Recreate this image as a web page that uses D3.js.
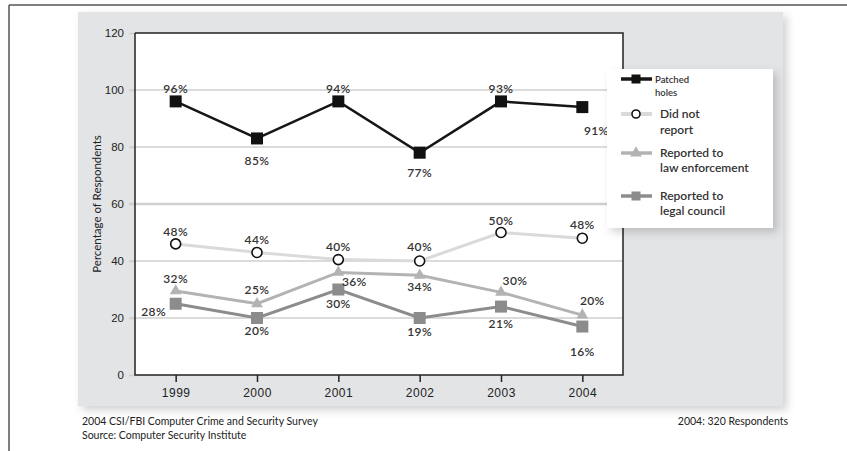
<!DOCTYPE html>
<html>
<head>
<meta charset="utf-8">
<script src="https://cdn.jsdelivr.net/npm/d3@7"></script>
<style>
  body { margin: 0; background: #fff; }
  svg { display: block; font-family: Lato, "Open Sans", sans-serif; }
</style>
</head>
<body>
<svg id="chart"></svg>
<script>
let years = ["1999", "2000", "2001", "2002", "2003", "2004"];
let yTicks = [0, 20, 40, 60, 80, 100, 120];

// plotted positions (as drawn) and the printed labels
let patched = [96, 83, 96, 78, 96, 94];
let patchedLabels = ["96%", "85%", "94%", "77%", "93%", "91%"];
let notReported = [46, 43, 40.5, 40, 50, 48];
let notReportedLabels = ["48%", "44%", "40%", "40%", "50%", "48%"];
let lawEnf = [29.5, 25, 36, 35, 29, 21];
let lawEnfLabels = ["32%", "25%", "36%", "34%", "30%", "20%"];
let legal = [25, 20, 30, 20, 24, 17];
let legalLabels = ["28%", "20%", "30%", "19%", "21%", "16%"];

let width = 847;
let height = 451;
let plot = { left: 135, right: 623, top: 33, bottom: 375 };

let svg = d3.select("#chart").attr("width", width).attr("height", height);

let defs = svg.append("defs");
let shadow = defs.append("filter").attr("id", "shadow")
  .attr("x", "-5%").attr("y", "-5%").attr("width", "115%").attr("height", "115%");
shadow.append("feDropShadow").attr("dx", 4).attr("dy", 4).attr("stdDeviation", 4)
  .attr("flood-color", "#000").attr("flood-opacity", 0.18);

// outer frame
svg.append("line").attr("x1", 9).attr("x2", width).attr("y1", 5).attr("y2", 5)
  .attr("stroke", "#555").attr("stroke-width", 1.5);
svg.append("line").attr("x1", 9).attr("x2", 9).attr("y1", 5).attr("y2", height)
  .attr("stroke", "#555").attr("stroke-width", 1.5);

// gray panel
svg.append("rect").attr("x", 78).attr("y", 12).attr("width", 705).attr("height", 394)
  .attr("fill", "#e3e4e6").attr("filter", "url(#shadow)");

svg.append("rect").attr("x", plot.left).attr("y", plot.top)
  .attr("width", plot.right - plot.left).attr("height", plot.bottom - plot.top)
  .attr("fill", "#fff");

let xScale = d3.scalePoint().domain(years).range([plot.left, plot.right]).padding(0.5);
let yScale = d3.scaleLinear().domain([0, 120]).range([plot.bottom, plot.top]);

// grid lines
svg.append("g").selectAll("line")
  .data(yTicks.filter((d) => d > 0 && d < 120))
  .enter().append("line")
  .attr("x1", plot.left - 6).attr("x2", plot.right)
  .attr("y1", (d) => yScale(d)).attr("y2", (d) => yScale(d))
  .attr("stroke", "#cfcfcf")
  .attr("stroke-width", (d) => (d === 60 ? 2.5 : 1.5));

// axes
let yAxis = d3.axisLeft(yScale).tickValues(yTicks).tickSize(6).tickPadding(5);
let yG = svg.append("g").attr("transform", "translate(" + plot.left + ",0)").call(yAxis);
yG.select(".domain").remove();
yG.selectAll(".tick line").attr("stroke", "#cfcfcf").attr("stroke-width", 1.5);
yG.selectAll("text").attr("font-size", 11.5).attr("fill", "#222");

let xAxis = d3.axisBottom(xScale).tickSize(7).tickPadding(6);
let xG = svg.append("g").attr("transform", "translate(0," + plot.bottom + ")").call(xAxis);
xG.select(".domain").remove();
xG.selectAll(".tick line").attr("stroke", "#222").attr("stroke-width", 1.5);
xG.selectAll("text").attr("font-size", 12).attr("fill", "#222").attr("font-weight", 500)
  .attr("letter-spacing", 0.5);

// plot border: left, bottom, top, right
svg.append("path")
  .attr("d", "M" + plot.left + "," + plot.top + "V" + plot.bottom + "H" + plot.right +
    "V" + plot.top + "H" + plot.left)
  .attr("fill", "none").attr("stroke", "#222").attr("stroke-width", 1.5);

svg.append("text")
  .attr("transform", "translate(101," + (plot.top + plot.bottom) / 2 + ") rotate(-90)")
  .attr("text-anchor", "middle").attr("font-size", 11.5).attr("fill", "#222")
  .text("Percentage of Respondents");

let series = [
  { values: legal, labels: legalLabels, color: "#8c8c8c", width: 3, marker: "square", fill: "#8c8c8c", size: 12,
    off: [[-22, 12], [0, 17], [0, 18], [0, 18], [0, 21], [0, 29]] },
  { values: lawEnf, labels: lawEnfLabels, color: "#b3b3b3", width: 3, marker: "triangle", fill: "#b3b3b3", size: 11,
    off: [[0, -8], [0, -10], [16, 14], [0, 16], [14, -7], [10, -10]] },
  { values: notReported, labels: notReportedLabels, color: "#dadada", width: 3, marker: "circle", fill: "#fff", size: 5,
    off: [[0, -8], [0, -8], [0, -9], [0, -10], [0, -8], [0, -9]] },
  { values: patched, labels: patchedLabels, color: "#161616", width: 2.5, marker: "square", fill: "#111", size: 12,
    off: [[0, -8], [0, 27], [0, -8], [0, 24], [0, -8], [14, 28]] },
];

let drawMarker = (g, s, x, y) => {
  if (s.marker === "square") {
    g.append("rect").attr("x", x - s.size / 2).attr("y", y - s.size / 2)
      .attr("width", s.size).attr("height", s.size).attr("fill", s.fill);
  } else if (s.marker === "triangle") {
    g.append("path").attr("d", d3.symbol(d3.symbolTriangle, 60)())
      .attr("transform", "translate(" + x + "," + y + ")").attr("fill", s.fill);
  } else {
    g.append("circle").attr("cx", x).attr("cy", y).attr("r", s.size)
      .attr("fill", s.fill).attr("stroke", "#111").attr("stroke-width", 1.6);
  }
};

let line = d3.line().x((d, i) => xScale(years[i])).y((d) => yScale(d));

series.forEach((s) => {
  let g = svg.append("g");
  g.append("path").datum(s.values).attr("d", line)
    .attr("fill", "none").attr("stroke", s.color).attr("stroke-width", s.width);
  s.values.forEach((v, i) => drawMarker(g, s, xScale(years[i]), yScale(v)));
});

// value labels on top
series.forEach((s) => {
  svg.append("g").selectAll("text").data(s.values).enter().append("text")
    .attr("x", (d, i) => xScale(years[i]) + s.off[i][0])
    .attr("y", (d, i) => yScale(d) + s.off[i][1])
    .attr("text-anchor", "middle").attr("font-size", 12).attr("font-weight", 600)
    .attr("letter-spacing", 0.4).attr("fill", "#333")
    .text((d, i) => s.labels[i]);
});

// legend
let legend = svg.append("g");
legend.append("rect").attr("x", 607).attr("y", 69).attr("width", 166).attr("height", 159)
  .attr("fill", "#fff").attr("filter", "url(#shadow)");

let legendItems = [
  { s: series[3], y: 79, lines: ["Patched", "holes"], size: 9.5, tx: 655, gap: 13 },
  { s: series[2], y: 114, lines: ["Did not", "report"], size: 12, tx: 660, gap: 16 },
  { s: series[1], y: 153, lines: ["Reported to", "law enforcement"], size: 12, tx: 660, gap: 15 },
  { s: series[0], y: 196, lines: ["Reported to", "legal council"], size: 12, tx: 660, gap: 15 },
];

legendItems.forEach((it) => {
  let g = legend.append("g");
  g.append("line").attr("x1", 621).attr("x2", 652).attr("y1", it.y).attr("y2", it.y)
    .attr("stroke", it.s.color).attr("stroke-width", it.s.marker === "circle" ? 4 : 3.5);
  let small = Object.assign({}, it.s, { size: it.s.marker === "circle" ? 4 : 9 });
  drawMarker(g, small, 636, it.y);
  it.lines.forEach((t, j) => {
    g.append("text").attr("x", it.tx).attr("y", it.y + 4 + j * it.gap)
      .attr("font-size", it.size).attr("font-weight", 600).attr("fill", "#333").text(t);
  });
});

// footer
svg.append("text").attr("x", 82).attr("y", 425).attr("font-size", 10.5).attr("fill", "#222")
  .text("2004 CSI/FBI Computer Crime and Security Survey");
svg.append("text").attr("x", 82).attr("y", 439).attr("font-size", 10.5).attr("fill", "#222")
  .text("Source: Computer Security Institute");
svg.append("text").attr("x", 788).attr("y", 425).attr("font-size", 10.5).attr("fill", "#222")
  .attr("text-anchor", "end").text("2004: 320 Respondents");
</script>
</body>
</html>
